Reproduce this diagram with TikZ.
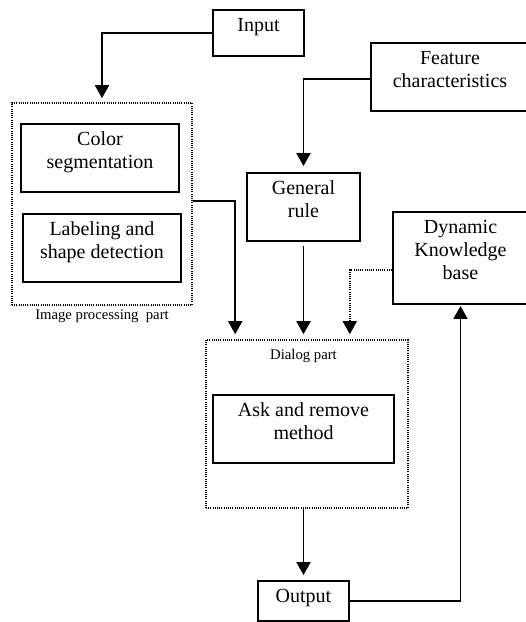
\documentclass[tikz,border=0pt]{standalone}
\usepackage{fontspec}
\setmainfont{Liberation Serif}
\usetikzlibrary{arrows.meta,positioning}

\begin{document}
\begin{tikzpicture}[
    x = 1pt, y = 1pt,
    font = \fontsize{20}{23}\selectfont,
    line width = 1.9pt,
    >={Triangle[width=14pt,length=13pt]},
    box/.style = {
      draw,
      inner sep = 0,
    },
    boxtext/.style = {
      anchor = north,
      align = center,
      inner xsep = 2pt,
      inner ysep = 8pt,
    },
    frame/.style = {
      draw,
      line width = 1.6pt,
      dash pattern = on 1pt off 1.2pt,
      inner sep = 0,
    },
    small/.style = {
      font = \fontsize{14.7}{17}\selectfont,
      inner sep = 2pt,
    },
  ]
  \useasboundingbox (0,0) rectangle (526,-622);

  % the two dotted parts
  \node[frame, minimum width = 180pt, minimum height = 202pt]
    (imgproc) at (102,-204) {};
  \node[small, below = 1.5pt of imgproc]
    (imgtitle) {Image processing\ \ part};

  \node[frame, minimum width = 202pt, minimum height = 168pt]
    (dialog) at (307,-424) {};

  % boxes, text sits at the top
  \node[
    box, minimum width = 91pt, minimum height = 46pt,
    label = {[boxtext, name = input-txt]north:Input},
  ] (input) at (258.5,-33) {};

  \node[
    box, minimum width = 158pt, minimum height = 68pt,
    label = {[boxtext, name = color-txt]north:Color\\segmentation},
  ] (color) at (100,-158) {};

  \node[
    box, minimum width = 158pt, minimum height = 68pt,
    label = {[boxtext, name = shape-txt]north:Labeling and\\shape detection},
  ] (shape) at (102,-248) {};

  \node[
    box, minimum width = 158pt, minimum height = 68pt,
    label = {[boxtext, name = feature-txt]north:Feature\\characteristics},
  ] (feature) at (450,-77) {};

  \node[
    box, minimum width = 113pt, minimum height = 68pt,
    label = {[boxtext, name = general-txt]north:General\\rule},
  ] (general) at (303.5,-207) {};

  \node[
    box, minimum width = 135pt, minimum height = 92pt,
    label = {[boxtext, name = dkb-txt]north:Dynamic\\Knowledge\\base},
  ] (dkb) at (460.5,-258) {};

  \node[small, below = 7pt] (dialogtitle) at (general |- dialog.north) {Dialog part};

  \node[
    box, minimum width = 181pt, minimum height = 68pt,
    label = {[boxtext, name = ask-txt]north:Ask and remove\\method},
  ] (ask) at (303.5,-429) {};

  \node[
    box, minimum width = 91pt, minimum height = 40pt,
    label = {[boxtext, name = output-txt]north:Output},
  ] (output) at (303.5,-601) {};

  % connectors
  \draw[->, shorten >= 4pt] (input.west) -| (imgproc.north);
  \draw[->, shorten >= 6pt] ([yshift=-2pt]feature.west) -| (general.north);
  \draw[->, shorten >= 5pt] ([yshift=3pt]imgproc.east) -| ([xshift=30pt]dialog.north west);
  \draw[->, shorten <= 4pt, shorten >= 5pt] (general.south) -- (general.south |- dialog.north);
  \draw[frame, ->, shorten >= 5pt] ([yshift=-12pt]dkb.west) -| ([xshift=-59pt]dialog.north east);
  \draw[->, shorten >= 5pt] (output.north |- dialog.south) -- (output.north);
  \draw[->, shorten >= 1pt] (output.east) -| (dkb.south);

\end{tikzpicture}
\end{document}
